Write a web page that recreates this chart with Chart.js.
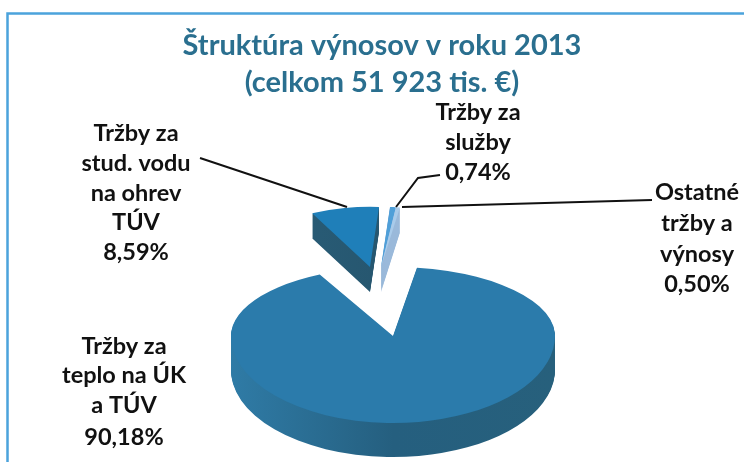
<!DOCTYPE html>
<html><head><meta charset="utf-8">
<style>html,body{margin:0;padding:0;background:#fff}canvas{display:block;filter:blur(0.5px)}</style>
<script src="https://cdn.jsdelivr.net/npm/chart.js@4"></script>
</head><body><canvas id="c" width="744" height="462"></canvas>
<script>
const titleLines = ['Štruktúra výnosov v roku 2013', '(celkom 51 923 tis. €)'];
const categories = [
  ['Tržby za', 'teplo na ÚK', 'a TÚV'],
  ['Tržby za', 'stud. vodu', 'na ohrev', 'TÚV'],
  ['Tržby za', 'služby'],
  ['Ostatné', 'tržby a', 'výnosy']
];
const values = [90.18, 8.59, 0.74, 0.50];

const topColors = ['#2b7bab', '#1f7fb9', '#4f9fd8', '#a9cbea'];
const wallColors = [['#2f7ba6', '#255f7f', '#27607c'], ['#2a5f7a', '#234f66'], ['#8fb2d6', '#8fb2d6'], ['#9ab9da', '#9ab9da']];
// apex x, apex y, radius x, back tilt, front tilt, depth
const pieces = [
  [393, 336, 162, 69/162, 87/162, 34],
  [370, 267, 128, .47, .47, 25],
  [381, 267, 128, .47, .47, 25],
  [381, 267, 128, .47, .47, 25]
];
const drawOrder = [1, 2, 3, 0];
const labelStyle = [
  {x: 124, y: [346, 375, 405, 437]},
  {x: 136, y: [133, 163, 193, 222, 252]},
  {x: 478, y: [112, 142, 172]},
  {x: 697, y: [192, 223, 254, 284]}
];
const leaders = [
  [[200, 158], [347, 207]],
  [[440, 175], [418, 178], [396, 207]],
  [[652, 200], [402, 207]]
];

function fmt(v) { return v.toFixed(2).replace('.', ',') + '%'; }

const pie3d = {
  id: 'pie3d',
  beforeDatasetDraw(chart, args) {
    const ctx = chart.ctx;
    const els = chart.getDatasetMeta(args.index).data;
    function stamp(el, p, ay, fill) {
      const s = p[2] / el.outerRadius;
      const saved = el.options;
      el.options = Object.create(saved);
      el.options.backgroundColor = fill;
      el.options.borderWidth = 0;
      const bands = p[3] === p[4] ? [[p[3], null]] : [[p[3], [0, 0, 744, ay]], [p[4], [0, ay, 744, 462 - ay]]];
      for (const [t, clip] of bands) {
        ctx.save();
        if (clip) { ctx.beginPath(); ctx.rect(clip[0], clip[1], clip[2], clip[3]); ctx.clip(); }
        ctx.translate(p[0], ay);
        ctx.scale(s, s * t);
        ctx.translate(-el.x, -el.y);
        el.draw(ctx);
        ctx.restore();
      }
      el.options = saved;
    }
    function grad(el, stops) {
      const g = ctx.createLinearGradient(el.x - el.outerRadius, 0, el.x + el.outerRadius, 0);
      stops.forEach((c, i) => g.addColorStop(i / (stops.length - 1), c));
      return g;
    }
    for (const i of drawOrder) {
      const el = els[i], p = pieces[i], wall = grad(el, wallColors[i]);
      for (let d = p[5]; d >= 1; d--) stamp(el, p, p[1] + d, wall);
      stamp(el, p, p[1], topColors[i]);
    }
    return false;
  },
  afterDraw(chart) {
    const ctx = chart.ctx;
    ctx.save();
    ctx.strokeStyle = '#4ba3dc';
    ctx.lineWidth = 2.5;
    ctx.beginPath();
    ctx.moveTo(7.5, 462); ctx.lineTo(7.5, 13.5); ctx.lineTo(744, 13.5);
    ctx.stroke();
    ctx.strokeStyle = '#111';
    ctx.lineWidth = 2;
    for (const l of leaders) {
      ctx.beginPath();
      l.forEach((pt, i) => i ? ctx.lineTo(pt[0], pt[1]) : ctx.moveTo(pt[0], pt[1]));
      ctx.stroke();
    }
    ctx.fillStyle = '#111';
    ctx.font = 'bold 23.5px Lato';
    ctx.textAlign = 'center';
    ctx.textBaseline = 'middle';
    categories.forEach((lines, i) => {
      const all = lines.concat(fmt(values[i]));
      all.forEach((t, j) => ctx.fillText(t, labelStyle[i].x, labelStyle[i].y[j]));
    });
    ctx.restore();
  }
};

new Chart(document.getElementById('c'), {
  type: 'pie',
  data: {
    labels: categories.map(c => c.join(' ')),
    datasets: [{ data: values, backgroundColor: topColors, borderWidth: 0 }]
  },
  options: {
    responsive: false,
    animation: false,
    rotation: 8.5,
    layout: { padding: { left: 20, right: 0, top: 0, bottom: 0 } },
    plugins: {
      legend: { display: false },
      tooltip: { enabled: false },
      title: {
        display: true,
        text: titleLines,
        color: '#2a6f8f',
        font: { family: 'Lato', size: 29, weight: 'bold', lineHeight: 37 / 29 },
        padding: { top: 27, bottom: 4 }
      }
    }
  },
  plugins: [pie3d]
});
</script></body></html>
